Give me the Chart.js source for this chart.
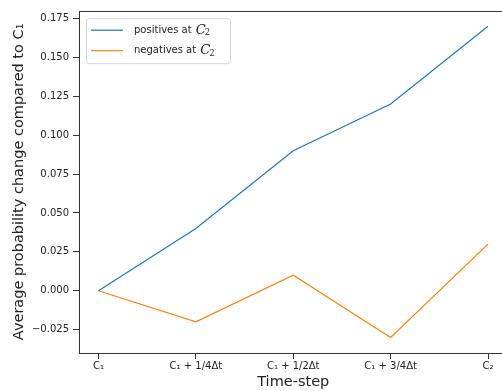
<!DOCTYPE html>
<html>
<head>
<meta charset="utf-8">
<script src="https://cdn.jsdelivr.net/npm/chart.js"></script>
<style>
  html, body { margin: 0; padding: 0; background: #fff; overflow: hidden; }
  #wrap { width: 520px; height: 391px; }
</style>
</head>
<body>
<div id="wrap"><canvas id="chart"></canvas></div>
<script>
// Chart values
const xLabels = ['C₁', 'C₁ + 1/4Δt', 'C₁ + 1/2Δt', 'C₁ + 3/4Δt', 'C₂'];
const positives = [0, 0.04, 0.09, 0.12, 0.17];
const negatives = [0, -0.02, 0.01, -0.03, 0.03];
const yTicks = [-0.025, 0, 0.025, 0.05, 0.075, 0.1, 0.125, 0.15, 0.175];
const seriesNames = ['positives at', 'negatives at'];
const seriesColors = ['#1f77b4', '#ff7f0e'];

const FONT = 'DejaVu Sans';
const AXIS_COLOR = '#333333';

// frame around the plot area (matplotlib spines)
const spinesPlugin = {
  id: 'spines',
  afterDraw(chart) {
    const { ctx, chartArea: a } = chart;
    ctx.save();
    ctx.strokeStyle = AXIS_COLOR;
    ctx.lineWidth = 1;
    ctx.strokeRect(Math.round(a.left) + 0.5, Math.round(a.top) + 0.5,
      Math.round(a.right - a.left), Math.round(a.bottom - a.top));
    ctx.restore();
  }
};

// legend box in the upper left corner of the plot
const legendPlugin = {
  id: 'innerLegend',
  afterDraw(chart) {
    const { ctx, chartArea: a } = chart;
    const x = a.left + 7, y = a.top + 7.5, w = 144, h = 45, r = 3;
    ctx.save();
    ctx.fillStyle = 'rgba(255,255,255,0.8)';
    ctx.strokeStyle = '#d6d6d6';
    ctx.lineWidth = 1;
    ctx.beginPath();
    ctx.roundRect(x + 0.5, y + 0.5, w, h, r);
    ctx.fill();
    ctx.stroke();
    seriesNames.forEach((name, i) => {
      const rowY = y + 12 + i * 20.5;
      ctx.strokeStyle = seriesColors[i];
      ctx.lineWidth = 1.2;
      ctx.beginPath();
      ctx.moveTo(x + 5, rowY);
      ctx.lineTo(x + 37, rowY);
      ctx.stroke();
      ctx.fillStyle = '#222';
      ctx.textBaseline = 'middle';
      ctx.font = '10px "' + FONT + '"';
      ctx.fillText(name, x + 48, rowY);
      const tw = ctx.measureText(name + ' ').width;
      ctx.font = 'italic 13px "DejaVu Serif"';
      ctx.fillText('C', x + 48 + tw + 1, rowY);
      const cw = ctx.measureText('C').width;
      ctx.font = '8.5px "DejaVu Serif"';
      ctx.fillText('2', x + 48 + tw + cw, rowY + 3);
    });
    ctx.restore();
  }
};

new Chart(document.getElementById('chart'), {
  type: 'line',
  data: {
    datasets: [
      {
        label: seriesNames[0] + ' C₂',
        data: positives.map((v, i) => ({ x: i, y: v })),
        borderColor: seriesColors[0],
        borderWidth: 1.2,
        pointRadius: 0,
        tension: 0
      },
      {
        label: seriesNames[1] + ' C₂',
        data: negatives.map((v, i) => ({ x: i, y: v })),
        borderColor: seriesColors[1],
        borderWidth: 1.2,
        pointRadius: 0,
        tension: 0
      }
    ]
  },
  options: {
    responsive: true,
    maintainAspectRatio: false,
    animation: false,
    layout: { padding: { top: 10.7, right: 12.5, left: 0, bottom: 0 } },
    plugins: {
      legend: { display: false },
      tooltip: { enabled: false }
    },
    scales: {
      x: {
        type: 'linear',
        min: -0.2,
        max: 4.2,
        afterBuildTicks: s => { s.ticks = xLabels.map((_, i) => ({ value: i })); },
        afterFit: s => { s.height = 38; },
        grid: { drawOnChartArea: false, drawTicks: true, tickLength: 6, color: AXIS_COLOR },
        border: { display: false },
        ticks: {
          color: '#222',
          padding: 1,
          maxRotation: 0,
          font: { family: FONT, size: 10 },
          callback: v => xLabels[v]
        },
        title: {
          display: true,
          text: 'Time-step',
          color: '#222',
          font: { family: FONT, size: 14.5 },
          padding: { top: 0, bottom: 0 }
        }
      },
      y: {
        min: -0.04,
        max: 0.18,
        afterBuildTicks: s => { s.ticks = yTicks.map(v => ({ value: v })); },
        afterFit: s => { s.width = 79; },
        grid: { drawOnChartArea: false, drawTicks: true, tickLength: 6, color: AXIS_COLOR },
        border: { display: false },
        ticks: {
          color: '#222',
          padding: 4,
          font: { family: FONT, size: 10 },
          callback: v => v.toFixed(3).replace('-', '−')
        },
        title: {
          display: true,
          text: 'Average probability change compared to C₁',
          color: '#222',
          font: { family: FONT, size: 14.5 },
          padding: { top: 11, bottom: 0 }
        }
      }
    }
  },
  plugins: [spinesPlugin, legendPlugin]
});
</script>
</body>
</html>
